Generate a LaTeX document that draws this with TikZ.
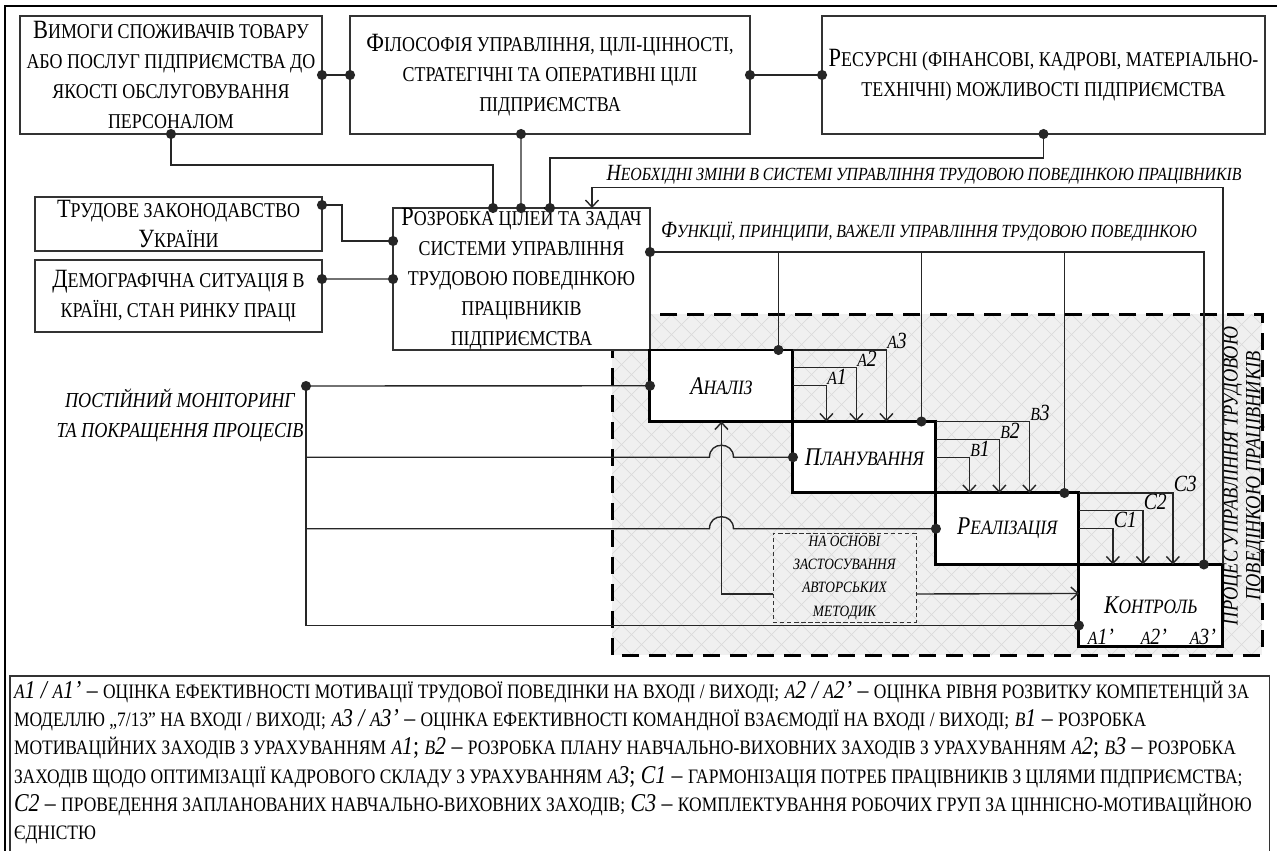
\documentclass[tikz,border=0pt]{standalone}
\usepackage{fontspec}
\setmainfont{Liberation Serif}[FakeStretch=0.85]
\usetikzlibrary{arrows.meta, positioning, calc}

\makeatletter
\newcommand\smc[1]{{\fontsize{\strip@pt\dimexpr0.8\dimexpr\f@size pt\relax\relax}{\f@baselineskip}\selectfont\MakeUppercase{#1}}}
\makeatother

\begin{document}
\begin{tikzpicture}[x=0.02cm, y=-0.02cm, every node/.style={outer sep=0pt},
  box/.style={draw=black!80, line width=0.8pt, fill=white, align=center, inner sep=0pt, font=\fontsize{15}{17}\selectfont},
  pbox/.style={draw, line width=1.7pt, fill=white, inner sep=0pt, anchor=north west, minimum width=2.86cm, minimum height=1.43cm, font=\itshape\fontsize{14.5}{17}\selectfont},
  lbl/.style={inner sep=0.5pt, font=\itshape\fontsize{13.2}{15}\selectfont},
  dl/.style={draw=black!85, line width=0.8pt, {Circle[length=2mm]}-{Circle[length=2mm]}, shorten <=-1mm, shorten >=-1mm},
  dstart/.style={draw=black!85, line width=0.8pt, {Circle[length=2mm]}-, shorten <=-1mm},
  dend/.style={draw=black!85, line width=0.8pt, -{Circle[length=2mm]}, shorten >=-1mm},
  ar/.style={draw=black!85, line width=0.8pt, -{Straight Barb[length=1.4mm,width=2.6mm]}},
  ln/.style={draw=black!85, line width=0.8pt}]
\useasboundingbox (0,0) rectangle (1277,850);

% hatched process area
\fill[black!6] (612,314) rectangle (1262,655);
\begin{scope}
\clip (612,314) rectangle (1262,655);
\foreach \k in {0,...,50} {
  \draw[black!14, line width=0.4pt] (271+20*\k,314) -- ++(341,341);
  \draw[black!14, line width=0.4pt] (612+20*\k,314) -- ++(-341,341);
}
\end{scope}
\node[rotate=90, align=center, inner sep=0pt, font=\itshape\fontsize{15.4}{13}\selectfont] (proc) at (1244,476) {\smc{процес управління трудовою}\\\smc{поведінкою працівників}};
\draw[line width=1.7pt, dash pattern=on 0.34cm off 0.2cm] (612,314) rectangle (1262,655);

% outer frame
\draw[line width=1.6pt] (5,852) -- (5,6) -- (1280,6);

% top factors
\node[box, minimum width=6.04cm, minimum height=2.36cm] (req) at (171,75) {В\smc{имоги споживачів товару}\\\smc{або послуг підприємства до}\\\smc{якості обслуговування}\\\smc{персоналом}};
\node[box, minimum width=8cm, minimum height=2.36cm] (phil) at (550,75) {Ф\smc{ілософія управління, цілі-цінності,}\\\smc{стратегічні та оперативні цілі}\\\smc{підприємства}};
\node[box, minimum width=8.86cm, minimum height=2.36cm] (res) at (1043.5,75) {Р\smc{есурсні (фінансові, кадрові, матеріально-}\\\smc{технічні) можливості підприємства}};
\node[box, minimum width=5.74cm, minimum height=1.08cm] (law) at (178.5,224) {Т\smc{рудове законодавство}\\У\smc{країни}};
\node[box, minimum width=5.74cm, minimum height=1.44cm] (demo) at (178.5,296) {Д\smc{емографічна ситуація в}\\\smc{країні, стан ринку праці}};
\node[box, minimum width=5.14cm, minimum height=2.84cm] (dev) at (521.5,279) {Р\smc{озробка цілей та задач}\\\smc{системи управління}\\\smc{трудовою поведінкою}\\\smc{працівників}\\\smc{підприємства}};

% process steps
\node[pbox] (anal) at (dev.south east) {А\smc{наліз}};
\node[pbox] (plan) at (anal.south east) {П\smc{ланування}};
\node[pbox] (real) at (plan.south east) {Р\smc{еалізація}};
\node[pbox, minimum width=2.88cm, minimum height=1.64cm] (contr) at (real.south east) {К\smc{онтроль}};

% links between factors
\draw[dl] (req.east) -- (phil.west);
\draw[dl] (phil.east) -- (res.west);
\draw[dl] (req.south) -- ++(0,31) -| ([xshift=2cm]dev.north west);
\draw[dl] ([xshift=-0.58cm]phil.south) -- ([xshift=2.56cm]dev.north west);
\draw[dl] (res.south) -- ++(0,24) -| ([xshift=3.14cm]dev.north west);
\draw[dl] ([yshift=.38cm]law.east) -- ++(20,0) |- ([yshift=.76cm]dev.west);
\draw[dl] ([yshift=.34cm]demo.east) -- (dev.west);

% feedback and functions
\draw[ar] (contr.north east) -- ++(0,-377) -| ([xshift=-1.16cm]dev.north east);
\node[lbl] (fbtxt) at (924,175) {Н\smc{еобхідні зміни в системі управління трудовою поведінкою працівників}};
\draw[dl] ([yshift=.54cm]dev.east) -| ([xshift=1.06cm]contr.north);
\foreach \b in {anal, plan, real}
  \draw[dstart] ([xshift=1.14cm]\b.north) |- ([yshift=.54cm]dev.east);
\node[lbl] (fntxt) at (929,232) {Ф\smc{ункції, принципи, важелі управління трудовою поведінкою}};

% step outputs
\foreach \s/\d/\p in {anal/plan/{\smc{a}}, plan/real/{\smc{в}}, real/contr/{С}} {
  \draw[ar] (\s.east) -| node[lbl, pos=.5, above right] (\d-1) {\p1} ([xshift=-.76cm]\d.north);
  \draw[ar] ([yshift=.36cm]\s.east) -| node[lbl, pos=.5, above right] (\d-2) {\p2} ([xshift=-.16cm]\d.north);
  \draw[ar] (\s.north east) -| node[lbl, pos=.5, above right] (\d-3) {\p3} ([xshift=.44cm]\d.north);
}
\node[lbl] (a1p) at ([xshift=-1cm,yshift=.2cm]contr.south) {\smc{a}1'};
\node[lbl] (a2p) at ([xshift=.06cm,yshift=.2cm]contr.south) {\smc{a}2'};
\node[lbl] (a3p) at ([xshift=1.04cm,yshift=.2cm]contr.south) {\smc{a}3'};

% monitoring
\node[lbl, align=center, font=\itshape\fontsize{15.2}{17}\selectfont] (montxt) at (180,415) {\smc{постійний моніторинг}\\\smc{та покращення процесів}};
\coordinate (mon) at (306,386);
\draw[dl] (mon) -- (anal.west);
\draw[dend] (mon) |- ([yshift=-.4cm]contr.west);
\draw[dend] (mon) |- ($(anal.south |- plan.west)+(-12,0)$) .. controls +(0,-16) and +(0,-16) .. ($(anal.south |- plan.west)+(12,0)$) -- (plan.west);
\draw[dend] (mon) |- ($(anal.south |- real.west)+(-12,0)$) .. controls +(0,-16) and +(0,-16) .. ($(anal.south |- real.west)+(12,0)$) -- (real.west);

% methods
\node[draw=black!80, dash pattern=on 2.5pt off 1.5pt, line width=0.5pt, align=center, inner sep=0pt, minimum width=2.86cm, minimum height=1.78cm, font=\itshape\fontsize{11.2}{13.3}\selectfont] (meth) at (844.5,577.5) {\smc{на основі}\\\smc{застосування}\\\smc{авторських}\\\smc{методик}};
\draw[ar] ([yshift=-.33cm]meth.west) -| (anal.south);
\draw[ar] ([yshift=-.33cm]meth.east) -- ([yshift=.24cm]contr.west);

% legend
\node[draw=black!80, line width=0.8pt, anchor=north west, inner sep=0pt, minimum width=25.2cm, minimum height=3.6cm] (leg) at (10,676) {};
\node[anchor=north west, align=left, inner sep=0pt, font=\fontsize{14.6}{16.1}\selectfont] (legtxt) at (14,681) {{\itshape\smc{a}1 / \smc{a}1'} – \smc{оцінка ефективності мотивації трудової поведінки на вході / виході;} {\itshape\smc{a}2 / \smc{a}2'} – \smc{оцінка рівня розвитку компетенцій за}\\
\smc{моделлю „7/13” на вході / виході;} {\itshape\smc{a}3 / \smc{a}3'} – \smc{оцінка ефективності командної взаємодії на вході / виході;} {\itshape\smc{в}1} – \smc{розробка}\\
\smc{мотиваційних заходів з урахуванням} {\itshape\smc{a}1}; {\itshape\smc{в}2} – \smc{розробка плану навчально-виховних заходів з урахуванням} {\itshape\smc{a}2}; {\itshape\smc{в}3} – \smc{розробка}\\
\smc{заходів щодо оптимізації кадрового складу з урахуванням} {\itshape\smc{a}3}; {\itshape С1} – \smc{гармонізація потреб працівників з цілями підприємства;}\\
{\itshape С2} – \smc{проведення запланованих навчально-виховних заходів;} {\itshape С3} – \smc{комплектування робочих груп за ціннісно-мотиваційною}\\
\smc{єдністю}};
\end{tikzpicture}
\end{document}
